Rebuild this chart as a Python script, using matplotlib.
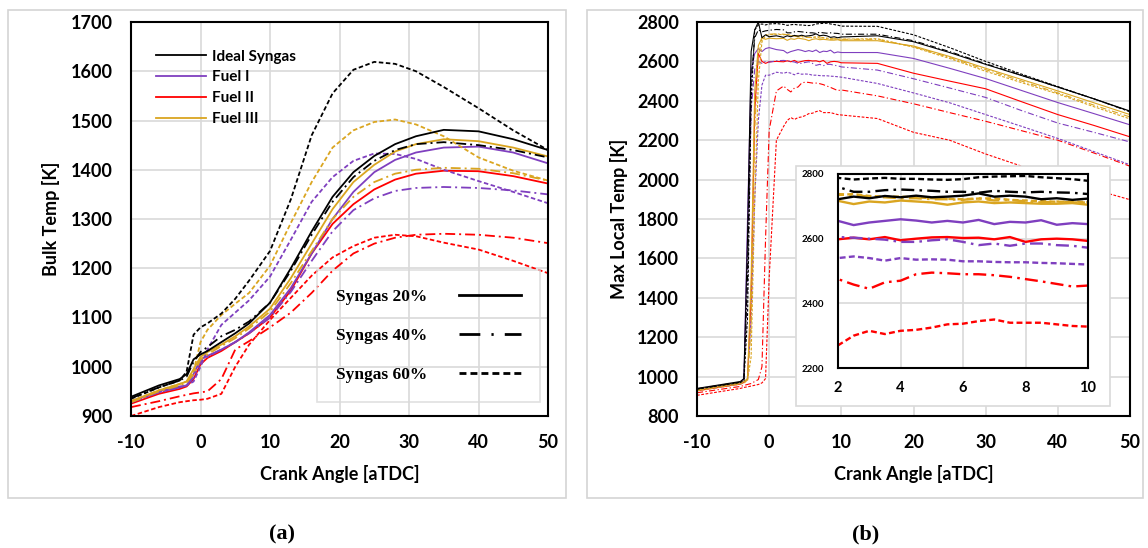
import matplotlib
matplotlib.use("Agg")
import matplotlib.pyplot as plt
from matplotlib.lines import Line2D
from matplotlib.patches import Rectangle

plt.rcParams['font.family'] = ['Lato', 'DejaVu Sans']
plt.rcParams['font.weight'] = 'bold'
plt.rcParams['axes.labelweight'] = 'bold'
plt.rcParams['axes.unicode_minus'] = False

# ---- (a) bulk temperature ----
ca_a = [-10, -6, -3, -2, -1, 0, 1, 3, 5, 7, 10, 13, 16, 19, 22, 25, 28, 31, 35, 40, 45, 50]

ideal_20_a = [939, 962, 975, 985, 1015, 1025, 1032, 1050, 1068, 1088, 1130, 1200, 1275, 1345, 1395, 1428, 1452, 1468, 1481, 1478, 1462, 1440]
ideal_40_a = [936, 958, 972, 980, 1010, 1030, 1040, 1062, 1075, 1092, 1130, 1195, 1268, 1335, 1385, 1418, 1440, 1452, 1456, 1450, 1440, 1425]
ideal_60_a = [935, 958, 972, 990, 1065, 1080, 1088, 1108, 1138, 1175, 1235, 1340, 1470, 1555, 1603, 1619, 1615, 1600, 1568, 1525, 1480, 1440]

fuel1_20_a = [930, 950, 960, 962, 985, 1015, 1022, 1035, 1050, 1070, 1105, 1160, 1230, 1300, 1355, 1395, 1420, 1435, 1445, 1447, 1435, 1413]
fuel1_40_a = [928, 948, 958, 962, 978, 1010, 1020, 1035, 1050, 1068, 1100, 1152, 1215, 1275, 1318, 1342, 1357, 1363, 1365, 1363, 1358, 1350]
fuel1_60_a = [928, 948, 958, 962, 970, 1000, 1035, 1085, 1110, 1135, 1183, 1258, 1335, 1385, 1418, 1433, 1432, 1422, 1400, 1377, 1355, 1332]

fuel2_20_a = [925, 945, 955, 960, 975, 1005, 1018, 1032, 1050, 1068, 1100, 1155, 1230, 1290, 1330, 1360, 1380, 1392, 1398, 1397, 1387, 1372]
fuel2_40_a = [918, 930, 940, 943, 946, 948, 950, 975, 1035, 1052, 1080, 1110, 1150, 1195, 1230, 1250, 1262, 1268, 1270, 1268, 1262, 1251]
fuel2_60_a = [900, 918, 928, 930, 932, 933, 935, 945, 1000, 1045, 1095, 1140, 1185, 1222, 1245, 1262, 1268, 1265, 1252, 1238, 1215, 1190]

fuel3_20_a = [930, 952, 965, 970, 995, 1020, 1030, 1045, 1062, 1082, 1118, 1180, 1250, 1320, 1375, 1410, 1437, 1452, 1462, 1458, 1445, 1427]
fuel3_40_a = [928, 950, 962, 968, 985, 1015, 1025, 1042, 1058, 1078, 1112, 1170, 1235, 1300, 1345, 1375, 1392, 1400, 1404, 1402, 1393, 1378]
fuel3_60_a = [930, 952, 965, 970, 990, 1050, 1075, 1105, 1128, 1150, 1205, 1292, 1375, 1445, 1480, 1497, 1502, 1492, 1468, 1425, 1398, 1378]

# ---- (b) max local temperature ----
ca_b = [-10, -4, -3.5, -3, -2.5, -2, -1.5, -1, -0.5, 0, 1,
        2, 2.5, 3, 3.5, 4, 4.5, 5, 5.5, 6, 6.5, 7, 7.5, 8, 8.5, 9, 9.5, 10,
        15, 20, 25, 30, 35, 40, 45, 50]

ideal_20_b = [940, 975, 990, 1700, 2650, 2760, 2800, 2720, 2735, 2725, 2730,
              2722, 2730, 2725, 2732, 2728, 2733, 2728, 2730, 2733, 2740, 2730, 2733, 2730, 2722, 2725, 2720, 2724,
              2730, 2700, 2645, 2585, 2528, 2470, 2410, 2348]
ideal_40_b = [938, 972, 985, 1500, 2500, 2720, 2760, 2750, 2755, 2758, 2762,
              2760, 2745, 2745, 2750, 2752, 2750, 2748, 2745, 2745, 2742, 2748, 2745, 2743, 2745, 2743, 2742, 2738,
              2738, 2705, 2650, 2588, 2530, 2470, 2410, 2345]
ideal_60_b = [936, 970, 980, 1300, 2400, 2760, 2785, 2790, 2785, 2790, 2792,
              2788, 2783, 2786, 2788, 2785, 2785, 2783, 2782, 2784, 2790, 2792, 2793, 2794, 2790, 2787, 2784, 2779,
              2778, 2735, 2670, 2600, 2535, 2472, 2410, 2345]

fuel1_20_b = [935, 970, 990, 1800, 2550, 2640, 2665, 2650, 2665, 2670, 2660,
              2655, 2642, 2650, 2655, 2660, 2656, 2650, 2655, 2650, 2658, 2645, 2652, 2650, 2657, 2643, 2648, 2645,
              2645, 2615, 2565, 2513, 2452, 2391, 2335, 2278]
fuel1_40_b = [933, 968, 980, 1500, 2350, 2560, 2600, 2590, 2600, 2596, 2603,
              2605, 2603, 2600, 2597, 2590, 2590, 2595, 2598, 2590, 2580, 2585, 2578, 2585, 2585, 2580, 2578, 2572,
              2556, 2512, 2465, 2417, 2350, 2287, 2240, 2191]
fuel1_60_b = [930, 962, 970, 990, 1300, 1900, 2300, 2480, 2530, 2530, 2545,
              2540, 2545, 2540, 2532, 2540, 2535, 2536, 2535, 2530, 2530, 2528, 2527, 2527, 2525, 2524, 2522, 2520,
              2488, 2440, 2390, 2330, 2270, 2209, 2142, 2075]

fuel2_20_b = [928, 962, 970, 985, 1400, 2350, 2640, 2600, 2590, 2598, 2600,
              2598, 2603, 2598, 2605, 2595, 2600, 2604, 2605, 2602, 2603, 2598, 2605, 2590, 2598, 2600, 2598, 2593,
              2590, 2540, 2500, 2461, 2395, 2330, 2275, 2217]
fuel2_40_b = [918, 950, 955, 960, 965, 975, 985, 1050, 1700, 2250, 2450,
              2475, 2458, 2445, 2465, 2470, 2490, 2495, 2493, 2490, 2490, 2487, 2482, 2475, 2468, 2460, 2452, 2455,
              2425, 2385, 2340, 2296, 2248, 2200, 2135, 2068]
fuel2_60_b = [905, 940, 945, 948, 952, 956, 960, 968, 990, 1500, 2200,
              2270, 2300, 2315, 2305, 2315, 2318, 2325, 2335, 2337, 2345, 2350, 2340, 2340, 2340, 2335, 2330, 2328,
              2310, 2240, 2200, 2130, 2068, 2000, 1950, 1898]

fuel3_20_b = [932, 968, 975, 990, 1500, 2450, 2680, 2720, 2712, 2718, 2715,
              2717, 2707, 2715, 2712, 2718, 2715, 2712, 2705, 2712, 2715, 2710, 2712, 2710, 2708, 2708, 2710, 2705,
              2705, 2678, 2625, 2565, 2508, 2450, 2390, 2330]
fuel3_40_b = [930, 965, 970, 985, 1250, 2250, 2620, 2720, 2735, 2738, 2740,
              2738, 2735, 2730, 2728, 2725, 2725, 2722, 2722, 2720, 2725, 2718, 2720, 2715, 2712, 2715, 2712, 2712,
              2712, 2675, 2620, 2558, 2500, 2440, 2378, 2318]
fuel3_60_b = [928, 962, 968, 980, 1100, 1900, 2500, 2700, 2730, 2735, 2738,
              2735, 2738, 2732, 2730, 2730, 2728, 2725, 2723, 2722, 2724, 2725, 2720, 2718, 2716, 2714, 2715, 2713,
              2715, 2672, 2615, 2550, 2492, 2435, 2370, 2308]

fuels = ['Ideal Syngas', 'Fuel I', 'Fuel II', 'Fuel III']
blends = ['Syngas 20%', 'Syngas 40%', 'Syngas 60%']
colors = ['black', '#7F3FBF', '#FF0000', '#DAA520']
styles = ['-', (0, (5.5, 2.2, 1.1, 2.2)), (0, (2.5, 1.4))]

bulk = [[ideal_20_a, ideal_40_a, ideal_60_a],
        [fuel1_20_a, fuel1_40_a, fuel1_60_a],
        [fuel2_20_a, fuel2_40_a, fuel2_60_a],
        [fuel3_20_a, fuel3_40_a, fuel3_60_a]]
local = [[ideal_20_b, ideal_40_b, ideal_60_b],
         [fuel1_20_b, fuel1_40_b, fuel1_60_b],
         [fuel2_20_b, fuel2_40_b, fuel2_60_b],
         [fuel3_20_b, fuel3_40_b, fuel3_60_b]]
draw_order = [2, 1, 3, 0]

W, H = 1148, 548
fig = plt.figure(figsize=(W / 100, H / 100), dpi=100)


def fx(px):
    return px / W


def fy(py):
    return 1 - py / H


def style_axes(ax, fs=13, pad=13):
    ax.grid(True, color='#d9d9d9', lw=1.2)
    ax.set_axisbelow(True)
    for s in ax.spines.values():
        s.set_linewidth(1.5)
        s.set_color('black')
    ax.tick_params(length=0, labelsize=fs, pad=pad)


# panel frames
for x0, x1 in [(8, 566), (587, 1143)]:
    fig.add_artist(Rectangle((fx(x0), fy(498)), fx(x1 - x0), (498 - 10) / H,
                             transform=fig.transFigure, fill=False,
                             edgecolor='#d4d4d4', lw=1.2, zorder=0.5))

# ---- panel (a) ----
ax_a = fig.add_axes([fx(131), fy(416), fx(548 - 131), 394 / H])
for i in draw_order:
    for j in range(3):
        ax_a.plot(ca_a, bulk[i][j], color=colors[i], ls=styles[j], lw=1.3)
ax_a.set_xlim(-10, 50)
ax_a.set_ylim(900, 1700)
ax_a.set_xticks(range(-10, 51, 10))
ax_a.set_yticks(range(900, 1701, 100))
style_axes(ax_a)
ax_a.set_xlabel('Crank Angle [aTDC]', fontsize=13)
ax_a.set_ylabel('Bulk Temp [K]', fontsize=13)
ax_a.xaxis.set_label_coords(0.5, -0.125)
ax_a.yaxis.set_label_coords(-0.17, 0.5)

fuel_handles = [Line2D([], [], color=c, lw=1.3) for c in colors]
leg1 = ax_a.legend(fuel_handles, fuels, loc='upper left', bbox_to_anchor=(0.06, 0.93),
                   frameon=False, fontsize=11, handlelength=3.3, handletextpad=0.35,
                   labelspacing=0.45, borderaxespad=0, borderpad=0)
ax_a.add_artist(leg1)

blend_handles = [Line2D([], [], color='black', lw=2, ls='-'),
                 Line2D([], [], color='black', lw=2, ls=(0, (7.5, 4, 0.8, 4))),
                 Line2D([], [], color='black', lw=2, ls=(0, (2.5, 1.45)))]
leg2 = ax_a.legend(blend_handles, blends, loc='upper left', bbox_to_anchor=(0.446, 0.3706),
                   markerfirst=False, fancybox=False, edgecolor='#d9d9d9',
                   prop={'family': 'Liberation Serif', 'weight': 'bold', 'size': 12.5},
                   handlelength=3.6, handletextpad=1.8, labelspacing=1.3,
                   borderpad=1.1, borderaxespad=0)
leg2.get_frame().set_facecolor('none')
leg2.get_frame().set_linewidth(1.2)

# ---- panel (b) ----
ax_b = fig.add_axes([fx(697), fy(416), fx(1130 - 697), 394 / H])
for i in draw_order:
    for j in range(3):
        ax_b.plot(ca_b, local[i][j], color=colors[i], ls=styles[j], lw=0.8)
ax_b.set_xlim(-10, 50)
ax_b.set_ylim(800, 2800)
ax_b.set_xticks(range(-10, 51, 10))
ax_b.set_yticks(range(800, 2801, 200))
style_axes(ax_b)
ax_b.set_xlabel('Crank Angle [aTDC]', fontsize=13)
ax_b.set_ylabel('Max Local Temp [K]', fontsize=13)
ax_b.xaxis.set_label_coords(0.5, -0.125)
ax_b.yaxis.set_label_coords(-0.159, 0.5)

# inset background and axes
fig.add_artist(Rectangle((fx(796), fy(406)), fx(1110 - 796), (406 - 166) / H,
                         transform=fig.transFigure, facecolor='white',
                         edgecolor='#d9d9d9', lw=1.2, zorder=2))
ax_in = fig.add_axes([fx(838), fy(368), fx(1088 - 838), (368 - 174) / H])
ax_in.set_zorder(3)
for i in draw_order:
    for j in range(3):
        ax_in.plot(ca_b, local[i][j], color=colors[i], ls=styles[j], lw=1.7)
ax_in.set_xlim(2, 10)
ax_in.set_ylim(2200, 2800)
ax_in.set_xticks(range(2, 11, 2))
ax_in.set_yticks(range(2200, 2801, 200))
style_axes(ax_in, fs=10.5, pad=9)
ax_in.tick_params(axis='y', labelsize=7, pad=10)

# panel captions
for px, lab in [(282, '(a)'), (866, '(b)')]:
    fig.text(fx(px), fy(534), lab, ha='center', va='center', fontsize=16,
             family='Liberation Serif', weight='bold')

fig.savefig('out.png', dpi=100)
